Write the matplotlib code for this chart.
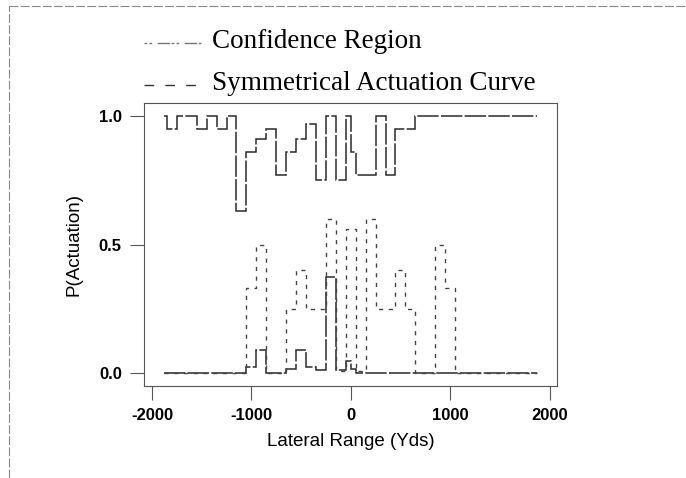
import matplotlib
matplotlib.use("Agg")
import matplotlib.pyplot as plt
from matplotlib.lines import Line2D
from matplotlib import font_manager

# ---- data (step curves: bin edges and values) ----
upper_edges = [-1875, -1850, -1750, -1550, -1450, -1350, -1250, -1150, -1050, -950,
               -850, -750, -650, -550, -450, -350, -250, -150, -50, 0, 50, 250,
               350, 450, 650, 1875]
upper_vals = [1.0, 0.95, 1.0, 0.95, 1.0, 0.95, 1.0, 0.63, 0.86, 0.91,
              0.95, 0.77, 0.86, 0.91, 0.97, 0.75, 1.0, 0.75, 1.0, 0.86,
              0.77, 1.0, 0.77, 0.95, 1.0]

lower_edges = [-1875, -1050, -950, -850, -650, -550, -450, -350, -250, -150,
               -50, 0, 50, 1875]
lower_vals = [0.0, 0.025, 0.088, 0.0, 0.016, 0.088, 0.025, 0.012, 0.372, 0.012,
              0.047, 0.017, 0.0]

sym_edges = [-1875, -1050, -950, -850, -650, -550, -450, -250, -150, -50, 50,
             150, 250, 450, 550, 650, 850, 950, 1050, 1875]
sym_vals = [0.0, 0.33, 0.50, 0.0, 0.25, 0.40, 0.25, 0.60, 0.01, 0.56, 0.01,
            0.60, 0.25, 0.40, 0.25, 0.0, 0.50, 0.33, 0.0]

x_ticks = [-2000, -1000, 0, 1000, 2000]
x_ticklabels = ["-2000", "-1000", "0", "1000", "2000"]
y_ticks = [0.0, 0.5, 1.0]
y_ticklabels = ["0.0", "0.5", "1.0"]

legend_labels = ["Confidence Region", "Symmetrical Actuation Curve"]

# ---- fonts ----
avail = {f.name for f in font_manager.fontManager.ttflist}
narrow = "Liberation Sans Narrow" if "Liberation Sans Narrow" in avail else "Liberation Sans"
serif = "Liberation Serif"

W, H = 686, 478
fig = plt.figure(figsize=(W / 100, H / 100), dpi=100)
ax = fig.add_axes([144 / W, 1 - 386 / H, (557 - 144) / W, (386 - 103) / H])

conf_style = dict(color="#2a2a2a", lw=1.1, linestyle=(0, (14, 1.5)))
sym_style = dict(color="#444444", lw=1.0, linestyle=(0, (3, 4)))

ax.stairs(upper_vals, upper_edges, baseline=None, **conf_style)
ax.stairs(lower_vals, lower_edges, baseline=None, **conf_style)
ax.stairs(sym_vals, sym_edges, baseline=None, **sym_style)

ax.set_xlim(-2080, 2075)
ax.set_ylim(-0.05, 1.05)
ax.set_xticks(x_ticks)
ax.set_xticklabels(x_ticklabels)
ax.set_yticks(y_ticks)
ax.set_yticklabels(y_ticklabels)

for s in ax.spines.values():
    s.set_color("#555555")
    s.set_linewidth(0.8)
    s.set_linestyle((0, (6, 1)))

ax.tick_params(axis="both", direction="out", length=10, width=0.8, color="#555555",
               labelsize=12, pad=6)
for lab in ax.get_xticklabels() + ax.get_yticklabels():
    lab.set_fontfamily(narrow)
    lab.set_fontweight("bold")

ax.set_xlabel("Lateral Range (Yds)", fontfamily=narrow, fontsize=13.5, labelpad=7)
ax.set_ylabel("P(Actuation)", fontfamily=narrow, fontsize=13.5, labelpad=12)

# ---- legend drawn above the axes ----
fig.add_artist(Line2D([144 / W, 201 / W], [1 - 43 / H, 1 - 43 / H],
                      transform=fig.transFigure, color="#777777", lw=1.0,
                      linestyle=(0, (2, 1.5, 2, 4, 9, 1))))
fig.text(212 / W, 1 - 48 / H, legend_labels[0], fontfamily=serif, fontsize=19.5,
         va="baseline", ha="left")
fig.add_artist(Line2D([144 / W, 201 / W], [1 - 85 / H, 1 - 85 / H],
                      transform=fig.transFigure, color="#333333", lw=1.0,
                      linestyle=(0, (7, 8))))
fig.text(212 / W, 1 - 90 / H, legend_labels[1], fontfamily=serif, fontsize=19.5,
         va="baseline", ha="left")

# ---- outer frame of the scanned figure ----
fig.add_artist(Line2D([9 / W, 9 / W], [0, 1 - 6 / H], transform=fig.transFigure,
                      color="#888888", lw=0.8, linestyle=(0, (8, 2))))
fig.add_artist(Line2D([9 / W, 1], [1 - 6 / H, 1 - 6 / H], transform=fig.transFigure,
                      color="#888888", lw=0.8, linestyle=(0, (8, 2))))

fig.savefig("out.png", dpi=100)
